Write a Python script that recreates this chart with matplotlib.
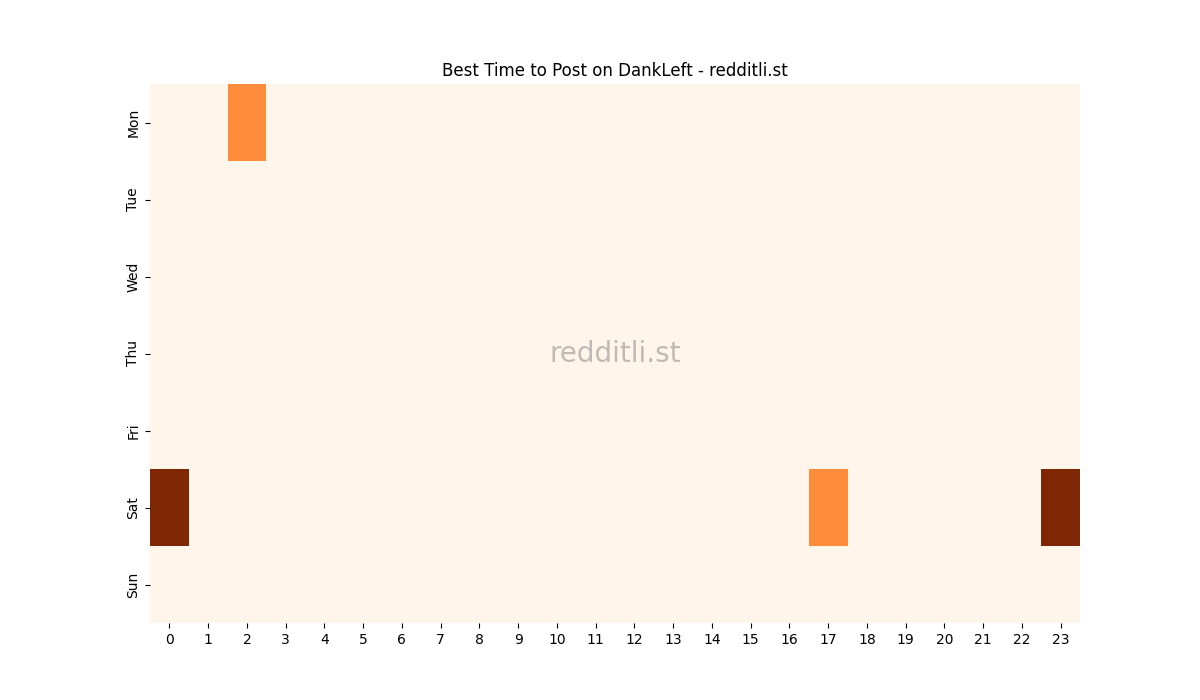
import numpy as np
import matplotlib
matplotlib.use("Agg")
import matplotlib.pyplot as plt
import seaborn as sns

days = ["Mon", "Tue", "Wed", "Thu", "Fri", "Sat", "Sun"]
hours = list(range(24))

# (day, hour, value) cells that are non-zero
hot_cells = [("Mon", 2, 1), ("Sat", 0, 2), ("Sat", 17, 1), ("Sat", 23, 2)]

grid = np.zeros((len(days), len(hours)))
for d, h, v in hot_cells:
    grid[days.index(d), h] = v

fig = plt.figure(figsize=(12, 7), dpi=100)
ax = sns.heatmap(grid, cmap="Oranges", cbar=False, xticklabels=hours, yticklabels=days)
ax.set_title("Best Time to Post on DankLeft - redditli.st")
ax.text(0.5, 0.5, "redditli.st", transform=ax.transAxes, ha="center", va="center",
        fontsize=20, color="grey", alpha=0.5)
plt.yticks(rotation=90, va="center")
plt.xticks(rotation=0)
plt.savefig("out.png")
